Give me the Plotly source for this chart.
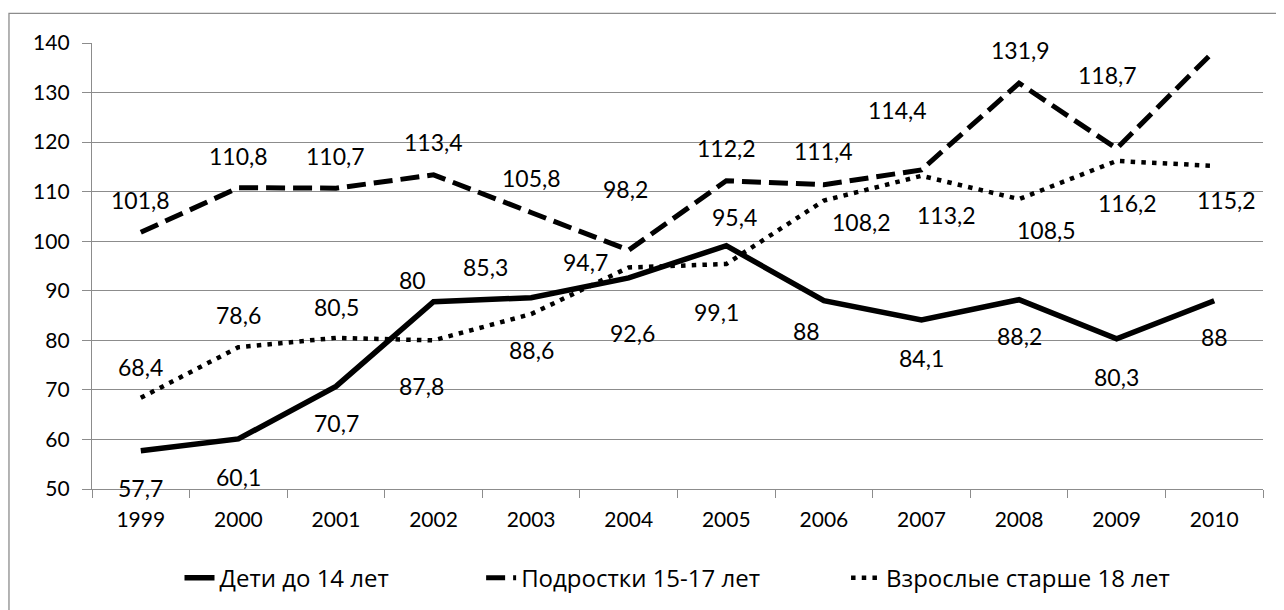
import plotly.graph_objects as go

years = [1999, 2000, 2001, 2002, 2003, 2004, 2005, 2006, 2007, 2008, 2009, 2010]

series_names = ["Дети до 14 лет", "Подростки 15-17 лет", "Взрослые старше 18 лет"]

children = [57.7, 60.1, 70.7, 87.8, 88.6, 92.6, 99.1, 88, 84.1, 88.2, 80.3, 88]
teens = [101.8, 110.8, 110.7, 113.4, 105.8, 98.2, 112.2, 111.4, 114.4, 131.9, 118.7, 138.4]
adults = [68.4, 78.6, 80.5, 80, 85.3, 94.7, 95.4, 108.2, 113.2, 108.5, 116.2, 115.2]

y_ticks = [50, 60, 70, 80, 90, 100, 110, 120, 130, 140]

# label placement (as in the source chart, labels were moved by hand)
children_label_y = [50.2, 52.5, 63.3, 70.7, 78.1, 81.4, 85.8, 81.8, 76.4, 80.9, 72.7, 80.6]
children_label_dx = [0, 0, 1, -12, 0, 4, -10, -17, 0, 0, 0, 0]
teens_label_y = [108.4, 117.1, 117.1, 120.0, 112.7, 110.6, 118.8, 118.2, 126.4, 138.5, 133.5, 141.6]
teens_label_dx = [0, 0, 0, 0, 0, -3, 0, 0, -24, 1, -9, 1]
adults_label_y = [74.7, 85.1, 86.7, 92.2, 94.9, 95.9, 104.9, 103.9, 105.3, 102.2, 107.8, 108.3]
adults_label_dx = [0, 0, 1, -21, -46, -43, 8, 38, 25, 27, 11, 12]

NUM_FONT = "Lato, 'Noto Sans', sans-serif"
TXT_FONT = "'Open Sans', 'Noto Sans', sans-serif"
GRAY = "#8c8c8c"

fig = go.Figure()
styles = [
    dict(color="black", width=5.5, dash="solid"),
    dict(color="black", width=5, dash="19px,8px"),
    dict(color="black", width=4.5, dash="4.5px,6.2px"),
]
pads = ["\u00a0" * 14, "\u00a0" * 13, ""]
for name, vals, st, p in zip(series_names, [children, teens, adults], styles, pads):
    fig.add_trace(go.Scatter(x=years, y=vals, mode="lines",
                             name=name + p, line=st, cliponaxis=False))

def fmt(v):
    return f"{v:g}".replace(".", ",")

annotations = []
for vals, ly, dx in [(children, children_label_y, children_label_dx),
                     (teens, teens_label_y, teens_label_dx),
                     (adults, adults_label_y, adults_label_dx)]:
    for yr, v, y, d in zip(years, vals, ly, dx):
        annotations.append(dict(x=yr, y=y, xref="x", yref="y", text=fmt(v),
                                showarrow=False, xshift=d,
                                xanchor="center", yanchor="middle",
                                font=dict(family=NUM_FONT, size=23, color="black")))

fig.update_layout(
    width=1284, height=610,
    margin=dict(l=84, r=29, t=35, b=129),
    paper_bgcolor="white", plot_bgcolor="white",
    showlegend=True,
    legend=dict(orientation="h", x=0.50, y=-0.2, xanchor="center", yanchor="middle",
                font=dict(family=TXT_FONT, size=24, color="black"),
                tracegroupgap=0),
    annotations=annotations,
    shapes=[dict(type="rect", xref="paper", yref="paper",
                 x0=-0.0709, x1=1.03, y0=-0.35, y1=1.0665,
                 line=dict(color=GRAY, width=1.3), fillcolor="rgba(0,0,0,0)",
                 layer="below")],
)
fig.update_xaxes(range=[years[0] - 0.5, years[-1] + 0.5], tickvals=years,
                 showgrid=False, showline=True, linecolor=GRAY, linewidth=1.3,
                 ticks="", zeroline=False, ticklabelstandoff=12,
                 minor=dict(tick0=years[0] - 0.5, dtick=1, ticks="outside", ticklen=8,
                            tickcolor=GRAY, tickwidth=1.3, showgrid=False),
                 tickfont=dict(family=NUM_FONT, size=21, color="black"))
fig.update_yaxes(range=[50, 140], tickvals=y_ticks, showgrid=True, gridcolor=GRAY,
                 gridwidth=1.3, showline=True, linecolor=GRAY, linewidth=1.3,
                 ticks="outside", ticklen=9, tickcolor=GRAY, tickwidth=1.3,
                 zeroline=False, ticklabelstandoff=8,
                 tickfont=dict(family=NUM_FONT, size=21, color="black"))

fig.write_html("out.html")
